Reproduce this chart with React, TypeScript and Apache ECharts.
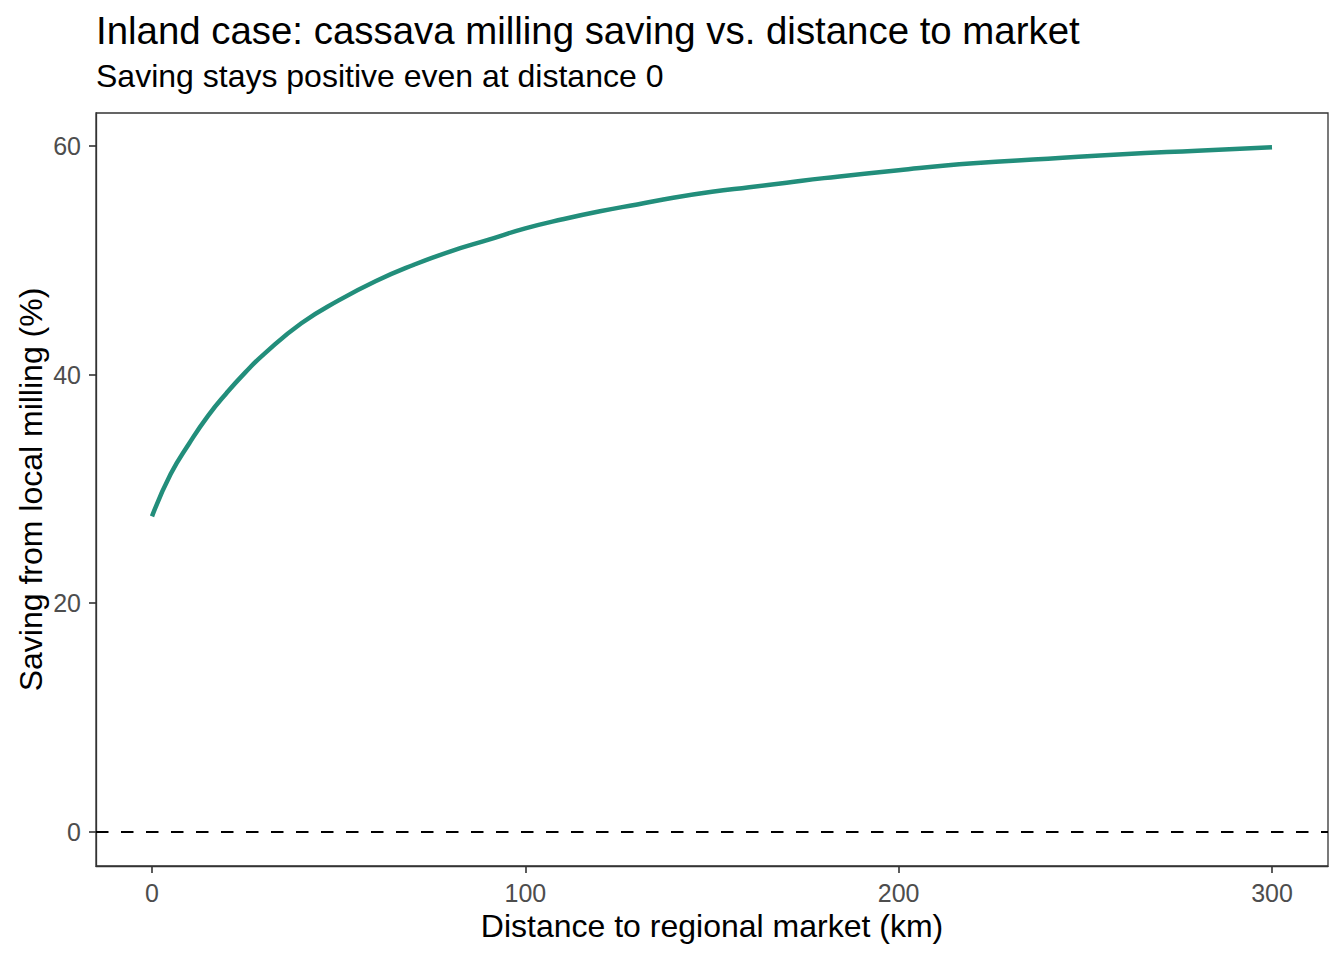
import React, { useEffect, useRef } from "react";
import * as echarts from "echarts";

const distanceKm = [0, 5, 10, 15, 20, 25, 30, 40, 50, 60, 70, 80, 90, 100, 110, 120, 130, 140, 150, 160, 170, 180, 200, 220, 240, 260, 280, 300];
const savingPct = [27.6, 31.3, 34.0, 36.4, 38.4, 40.2, 41.8, 44.5, 46.5, 48.2, 49.6, 50.8, 51.8, 52.8, 53.6, 54.3, 54.9, 55.5, 56.0, 56.4, 56.8, 57.2, 57.9, 58.5, 58.9, 59.3, 59.6, 59.9];
const xTicks = [0, 100, 200, 300];
const yTicks = [0, 20, 40, 60];

const titleText = "Inland case: cassava milling saving vs. distance to market";
const subtitleText = "Saving stays positive even at distance 0";
const xTitle = "Distance to regional market (km)";
const yTitle = "Saving from local milling (%)";

const FONT = "'Liberation Sans', Arial, Helvetica, sans-serif";

export default function App() {
  const ref = useRef<HTMLDivElement>(null);
  useEffect(() => {
    if (!ref.current) return;
    const chart = echarts.init(ref.current, null, { renderer: "svg" });
    const seriesData = distanceKm.map((d, i) => [d, savingPct[i]]);
    const gl = 96, gt = 113, gw = 1232, gh = 753;
    const axisLineStyle = { color: "#333333", width: 1.3 };
    chart.setOption({
      animation: false,
      backgroundColor: "#ffffff",
      textStyle: { fontFamily: FONT },
      grid: {
        left: gl, top: gt, width: gw, height: gh,
        show: true, borderColor: "#333333", borderWidth: 1.3, backgroundColor: "#ffffff",
      },
      xAxis: {
        type: "value",
        min: -15,
        max: 315,
        splitLine: { show: false },
        axisLine: { show: true, onZero: false, lineStyle: axisLineStyle },
        axisTick: { show: true, length: 7, lineStyle: { color: "#333333", width: 1.6 }, customValues: xTicks },
        axisLabel: {
          show: true, customValues: xTicks, margin: 27, verticalAlign: "middle",
          color: "#4D4D4D", fontSize: 25, fontFamily: FONT,
        },
      },
      yAxis: {
        type: "value",
        min: -2.995,
        max: 62.9,
        splitLine: { show: false },
        axisLine: { show: true, onZero: false, lineStyle: axisLineStyle },
        axisTick: { show: true, length: 7, lineStyle: { color: "#333333", width: 1.6 }, customValues: yTicks },
        axisLabel: {
          show: true, customValues: yTicks, margin: 15, verticalAlign: "middle",
          color: "#4D4D4D", fontSize: 25, fontFamily: FONT,
        },
      },
      graphic: [
        {
          type: "text", x: 96, y: 30,
          style: { text: titleText, fontSize: 38.4, fontFamily: FONT, fill: "#000000", align: "left", verticalAlign: "middle" },
        },
        {
          type: "text", x: 96, y: 76,
          style: { text: subtitleText, fontSize: 32, fontFamily: FONT, fill: "#000000", align: "left", verticalAlign: "middle" },
        },
        {
          type: "text", x: gl + gw / 2, y: 926,
          style: { text: xTitle, fontSize: 32, fontFamily: FONT, fill: "#000000", align: "center", verticalAlign: "middle" },
        },
        {
          type: "text", x: 31, y: gt + gh / 2, rotation: Math.PI / 2,
          style: { text: yTitle, fontSize: 32, fontFamily: FONT, fill: "#000000", align: "center", verticalAlign: "middle" },
        },
      ],
      series: [
        {
          type: "line",
          data: seriesData,
          smooth: true,
          showSymbol: false,
          lineStyle: { color: "#228E7B", width: 4.5 },
          markLine: {
            silent: true,
            symbol: "none",
            label: { show: false },
            lineStyle: { color: "#000000", width: 2.2, type: [12.5, 12.5] },
            data: [{ yAxis: 0 }],
          },
        },
      ],
    });
    return () => chart.dispose();
  }, []);
  return (
    <div
      ref={ref}
      style={{ position: "absolute", left: 0, top: 0, width: 1344, height: 960, background: "#fff" }}
    />
  );
}
